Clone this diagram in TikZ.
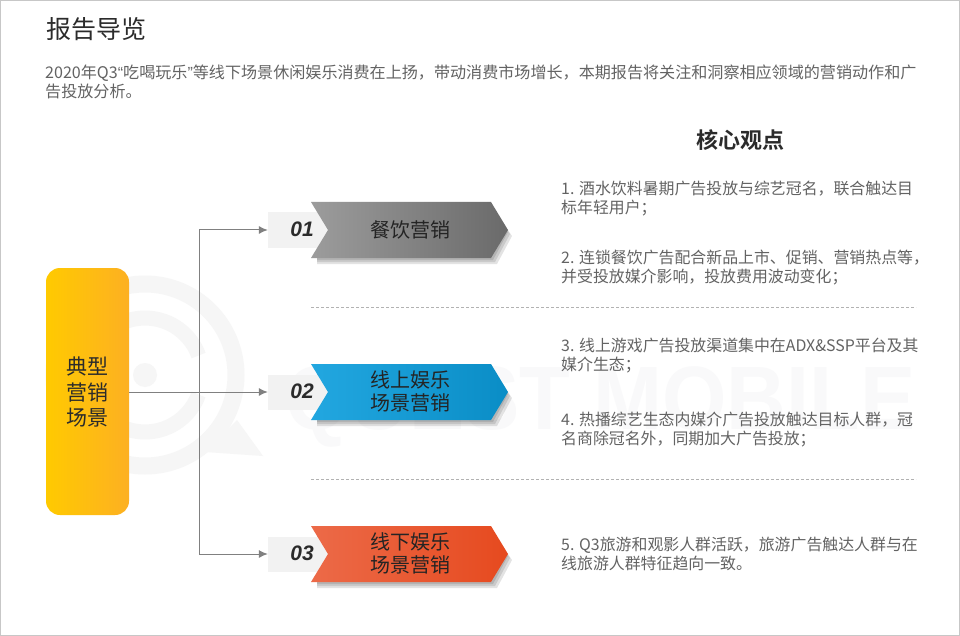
\documentclass[tikz,border=0pt]{standalone}
\usepackage{fontspec}
\setmainfont{Noto Sans CJK SC}[BoldFont={Noto Sans CJK SC Bold}]
\newfontfamily\latinface{Liberation Sans}
\usetikzlibrary{arrows.meta,calc,positioning}
\definecolor{titleink}{HTML}{2B2B2B}
\definecolor{bodyink}{HTML}{636363}
\definecolor{lineink}{HTML}{808080}
\definecolor{tabgray}{HTML}{F2F2F2}
\definecolor{markink}{HTML}{F6F6F6}
\definecolor{wordink}{HTML}{F9F9FA}
\definecolor{boxleft}{HTML}{FFCA00}
\definecolor{boxright}{HTML}{FDB022}
\definecolor{grayleft}{HTML}{9C9C9C}
\definecolor{grayright}{HTML}{6A6A6A}
\definecolor{blueleft}{HTML}{22A7E0}
\definecolor{blueright}{HTML}{0A8DC6}
\definecolor{redleft}{HTML}{EC6A48}
\definecolor{redright}{HTML}{E64A1F}
\tikzset{
  bodytext/.style={font=\fontsize{15.9}{19.5}\selectfont,text=bodyink,anchor=north west,inner sep=0pt,align=left},
  linktip/.style={-{Latex[length=9pt,width=8pt]},draw=lineink,line width=1pt},
  dashrule/.style={draw=black!30,dash pattern=on 3pt off 2pt,line width=0.6pt},
  numtab/.style={fill=tabgray,minimum width=60pt,minimum height=35pt,inner sep=0pt},
  numtext/.style={font=\fontsize{21}{21}\latinface\bfseries\itshape,text=titleink,inner sep=0pt},
  headtext/.style={font=\fontsize{20}{23}\selectfont,text=titleink!85!black,align=center,inner sep=0pt},
}
% soft shadow of an arrow band: #1 y centre
\newcommand{\bandshape}[1]{
  \foreach \off in {2,4,6}
    \fill[black,opacity=0.11] (317,#1-22+\off) -- (491+\off,#1-22+\off) -- (508+\off-2,#1+\off) -- (491+\off,#1+28+\off) -- (317,#1+28+\off) -- cycle;
}
% arrow band: #1 y centre, #2 left colour, #3 right colour
\newcommand{\bandfill}[3]{
  \shade[left color=#2,right color=#3] (311,#1-28) -- (491,#1-28) -- (508,#1) -- (491,#1+28) -- (311,#1+28) -- (328,#1) -- cycle;
}
\begin{document}
\begin{tikzpicture}[x=1pt,y=-1pt,>=Latex]
  \useasboundingbox (0,0) rectangle (960,636);
  \fill[white] (0,0) rectangle (960,636);
  \draw[black!22,line width=1pt] (0.5,0.5) rectangle (959.5,635.5);
  % watermark
  \draw[markink,line width=17pt] (145,375) circle (91);
  \fill[markink] (237,420) -- (263,456) -- (205,452) -- cycle;
  \draw[markink,line width=15pt] (145,375) ++(20:57) arc (20:340:57);
  \fill[markink] (145,375) circle (12);
  \node[font=\fontsize{90}{90}\latinface\bfseries,text=wordink,anchor=west,inner sep=0pt,xscale=0.92] (mark) at (285,407) {QUEST MOBILE};
  % title and intro
  \node[font=\fontsize{25}{30}\selectfont,text=titleink,anchor=west,inner sep=0pt] (title) at (46,29) {报告导览};
  \node[bodytext,font=\fontsize{16.08}{19.5}\selectfont] (intro) at (45,64.5) {2020年Q3{\latinface“}吃喝玩乐{\latinface”}等线下场景休闲娱乐消费在上扬，带动消费市场增长，本期报告将关注和洞察相应领域的营销动作和广\\告投放分析。};
  % left box
  \node[rounded corners=14pt,minimum width=83pt,minimum height=247pt,inner sep=0pt,
        left color=boxleft,right color=boxright] (scene) at (87.5,391.5) {};
  \node[font=\fontsize{21}{25.5}\selectfont,text=titleink,align=center,inner sep=0pt] (scenetext) at (87.5,392) {典型\\营销\\场景};
  % bands
  \bandshape{230}
  \bandshape{392}
  \bandshape{554}
  \node[numtab] (tabone) at (298,230) {};
  \node[numtab] (tabtwo) at (298,392) {};
  \node[numtab] (tabthree) at (298,554) {};
  \bandfill{230}{grayleft}{grayright}
  \bandfill{392}{blueleft}{blueright}
  \bandfill{554}{redleft}{redright}
  \node[numtext] (numone) at (302,229) {01};
  \node[numtext] (numtwo) at (302,391) {02};
  \node[numtext] (numthree) at (302,553) {03};
  \node[headtext] (headone) at (410,230) {餐饮营销};
  \node[headtext] (headtwo) at (410,391.5) {线上娱乐\\场景营销};
  \node[headtext] (headthree) at (410,553.5) {线下娱乐\\场景营销};
  % links
  \coordinate (fork) at (199,392);
  \draw[linktip] (scene.east |- tabtwo) -- (tabtwo.west);
  \draw[linktip] (fork) |- (tabone.west);
  \draw[linktip] (fork) |- (tabthree.west);
  % right column
  \node[font=\fontsize{22}{26}\bfseries,text=titleink,inner sep=0pt] (core) at (740,140) {核心观点};
  \node[bodytext] (pone) at (561,180.5) {1. 酒水饮料暑期广告投放与综艺冠名，联合触达目\\标年轻用户；};
  \node[bodytext] (ptwo) at (561,249.5) {2. 连锁餐饮广告配合新品上市、促销、营销热点等，\\并受投放媒介影响，投放费用波动变化；};
  \node[bodytext] (pthree) at (561,337.5) {3. 线上游戏广告投放渠道集中在ADX\&SSP平台及其\\媒介生态；};
  \node[bodytext] (pfour) at (561,411.5) {4. 热播综艺生态内媒介广告投放触达目标人群，冠\\名商除冠名外，同期加大广告投放；};
  \node[bodytext] (pfive) at (561,536.5) {5. Q3旅游和观影人群活跃，旅游广告触达人群与在\\线旅游人群特征趋向一致。};
  \draw[dashrule] (311,307) -- (916,307);
  \draw[dashrule] (311,479) -- (916,479);
\end{tikzpicture}
\end{document}
